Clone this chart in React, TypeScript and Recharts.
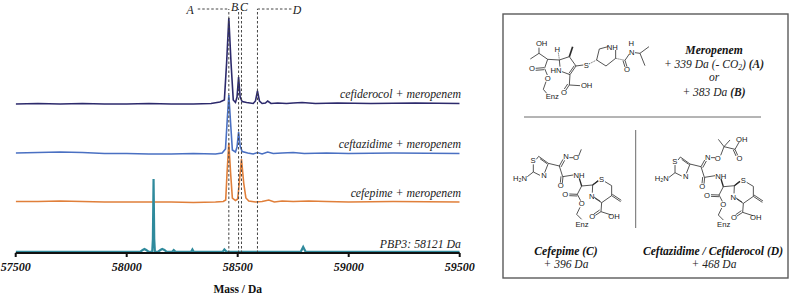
import React from "react";
import { LineChart, Line, XAxis, YAxis, ReferenceLine } from "recharts";

const massTicks = [57500, 58000, 58500, 59000, 59500];

const cefiderocolMass = [57500, 57600, 57700, 57800, 57900, 58000, 58100, 58200, 58300, 58380, 58420, 58440, 58450, 58460, 58470, 58480, 58490, 58497, 58504, 58511, 58520, 58540, 58570, 58580, 58589, 58598, 58610, 58625, 58635, 58650, 58680, 58720, 58750, 58790, 58850, 58950, 59100, 59300, 59500];
const cefiderocolSignal = [149, 149.5, 149, 149.5, 149, 149, 149.5, 149, 149, 149.5, 151, 153, 190, 235, 190, 153, 150.5, 156, 176, 156, 151.5, 150.5, 149.5, 152, 162, 152, 149.5, 150, 152, 149.5, 150, 149.5, 150, 150.5, 149.5, 150, 149.5, 150, 149.5];

const ceftazidimeMass = [57500, 57600, 57700, 57800, 57900, 58000, 58100, 58200, 58300, 58400, 58430, 58445, 58452, 58460, 58468, 58476, 58490, 58497, 58504, 58511, 58520, 58545, 58570, 58589, 58610, 58635, 58660, 58700, 58750, 58800, 58900, 59000, 59200, 59500];
const ceftazidimeSignal = [100, 100.5, 101, 100.5, 99.5, 99.5, 99, 99, 99.5, 99, 100, 104, 130, 158, 130, 103, 101, 106, 121, 107, 101.5, 100, 99, 100.5, 99, 101, 99.5, 100, 100.5, 99.5, 100, 99.5, 100, 99.5];

const cefepimeMass = [57500, 57600, 57700, 57800, 57900, 58000, 58100, 58200, 58300, 58400, 58435, 58446, 58452, 58460, 58468, 58476, 58490, 58500, 58507, 58517, 58527, 58537, 58550, 58580, 58610, 58640, 58665, 58700, 58750, 58820, 58900, 59000, 59200, 59500];
const cefepimeSignal = [51.5, 51.5, 52, 51.5, 51, 51, 51, 51, 50.5, 51, 51.5, 53, 80, 110, 80, 55, 52.5, 54, 70, 94, 70, 55, 52, 51, 51.5, 53, 51, 52, 51.5, 52, 51.5, 51, 51.5, 51];

const pbp3Mass = [57500, 57900, 58060, 58072, 58080, 58088, 58100, 58115, 58118, 58121, 58124, 58127, 58140, 58152, 58160, 58170, 58180, 58205, 58212, 58220, 58290, 58296, 58302, 58400, 58432, 58440, 58450, 58600, 58784, 58795, 58806, 59000, 59500];
const pbp3Signal = [1.2, 1.2, 1.2, 3, 4, 3, 1.2, 1.2, 14, 74, 14, 1.2, 1.2, 3, 4, 3, 1.2, 1.2, 3, 1.2, 1.2, 3.5, 1.2, 1.2, 1.2, 3.5, 1.2, 1.2, 1.2, 6, 1.2, 1.2, 1.2];

const massA = 58460;
const massB = 58504;
const massC = 58517;
const massD = 58589;
const leaderLevel = 244;
const leaderEndA = 58320;
const leaderEndD = 58745;

const toPoints = (xs: number[], ys: number[]) => xs.map((mass, i) => ({ mass, y: ys[i] }));

const series = [
  { key: "ceftazidime", color: "#4a70c2", width: 1.6, points: toPoints(ceftazidimeMass, ceftazidimeSignal) },
  { key: "cefiderocol", color: "#2d2a6c", width: 1.6, points: toPoints(cefiderocolMass, cefiderocolSignal) },
  { key: "cefepime", color: "#e07f3a", width: 1.6, points: toPoints(cefepimeMass, cefepimeSignal) },
  { key: "pbp3", color: "#2f8a9c", width: 2.2, points: toPoints(pbp3Mass, pbp3Signal) },
];

const serif = "'Liberation Serif', serif";
const sans = "'Liberation Sans', sans-serif";

type Seg = [number, number, number, number];
type Lab = [string, number, number];

// Meropenem adduct sketch, in 3x crop units
const meroBonds: Seg[] = [
  [207, 143, 207, 160], [207, 160, 181, 177], [207, 160, 233, 178], [233, 178, 268, 180],
  [233, 178, 224, 204], [222, 203, 197, 205], [222, 209, 197, 211], [224, 206, 232, 225],
  [228, 245, 220, 268], [220, 268, 230, 280],
  [268, 180, 298, 170], [298, 170, 318, 198], [318, 198, 300, 224], [313, 197, 297, 220],
  [300, 224, 276, 215], [268, 180, 270, 200],
  [300, 224, 298, 255], [298, 255, 330, 257], [298, 255, 288, 270], [293, 252, 283, 267],
  [318, 198, 340, 195],
  [380, 180, 388, 147], [388, 147, 414, 140], [437, 150, 437, 175], [437, 175, 408, 198], [408, 198, 380, 180],
  [465, 181, 471, 200], [459, 182, 465, 201], [465, 181, 478, 162], [495, 158, 510, 160], [510, 160, 537, 140], [510, 160, 525, 197],
];
const meroDashed: Seg[] = [[265, 158, 268, 178], [357, 192, 380, 180], [437, 175, 465, 181]];
const meroWedges: Seg[] = [[298, 170, 308, 140]];
const meroLabels: Lab[] = [
  ["OH", 215, 138], ["H", 262, 155], ["O", 186, 214], ["HN", 258, 218], ["O", 233, 242], ["Enz", 247, 298],
  ["O", 282, 284], ["OH", 350, 265], ["S", 349, 203], ["NH", 427, 150], ["H", 484, 137], ["N", 485, 164], ["O", 471, 217],
];

// Shared cephalosporin core, in 3x crop units
const cephBonds: Seg[] = [
  [172, 140, 190, 126], [190, 126, 190, 103], [199, 88, 206, 79], [206, 79, 235, 100], [210, 86, 231, 101],
  [235, 100, 224, 128], [210, 136, 190, 126], [235, 100, 268, 108],
  [268, 108, 279, 88], [273, 111, 284, 91], [268, 108, 278, 140], [273, 139, 271, 158], [279, 140, 277, 159], [278, 140, 310, 135],
  [335, 168, 322, 193], [322, 193, 298, 192], [322, 198, 298, 197], [322, 193, 332, 212],
  [330, 232, 320, 253], [320, 253, 335, 268],
  [335, 168, 368, 165], [368, 165, 367, 188], [384, 152, 368, 165],
  [405, 155, 425, 167], [425, 167, 425, 197], [425, 197, 395, 218], [395, 218, 375, 205], [391, 214, 372, 201],
  [425, 197, 452, 215], [427, 193, 454, 211],
  [395, 218, 393, 245], [393, 245, 424, 255], [393, 245, 376, 256], [389, 240, 372, 252],
];
const cephWedges: Seg[] = [[328, 145, 335, 168], [368, 165, 385, 152]];
const cephLabels: Lab[] = [
  ["H\u2082N", 150, 152], ["S", 189, 100], ["N", 222, 144], ["O", 272, 175], ["NH", 327, 144], ["O", 286, 202],
  ["O", 335, 229], ["Enz", 336, 290], ["S", 395, 157], ["N", 365, 207], ["O", 367, 267], ["OH", 432, 267], ["N", 288, 88],
];
const cefepimeTail: Seg[] = [[298, 83, 310, 83], [326, 78, 334, 58]];
const cefepimeTailLabels: Lab[] = [["O", 318, 90]];
const ceftazidimeTail: Seg[] = [
  [-127, 83, -115, 83], [-98, 76, -88, 50], [-88, 50, -105, 28], [-88, 50, -70, 30], [-88, 50, -55, 58],
  [-55, 58, -42, 35], [-55, 58, -47, 76], [-60, 60, -52, 78],
];
const ceftazidimeTailLabels: Lab[] = [["O", -107, 92], ["OH", -35, 35], ["O", -42, 92]];

const lineInk = "#2a2a2a";

function Bonds({ bonds, dashed, width }: { bonds: Seg[]; dashed?: boolean; width?: number }) {
  return (
    <g stroke={lineInk} strokeWidth={width ?? 2.4} strokeDasharray={dashed ? "3 3" : undefined} fill="none">
      {bonds.map(([a, b, c, d], i) => (
        <line key={i} x1={a} y1={b} x2={c} y2={d} />
      ))}
    </g>
  );
}
function AtomLabels({ labels }: { labels: Lab[] }) {
  return (
    <g fontFamily={sans} fontSize={23} fill="#1a1a1a" textAnchor="middle">
      {labels.map(([t, x, y], i) => (
        <text key={i} x={x} y={y}>{t}</text>
      ))}
    </g>
  );
}
function CephCore() {
  return (
    <g>
      <Bonds bonds={cephBonds} />
      <Bonds bonds={cephWedges} width={4} />
      <AtomLabels labels={cephLabels} />
    </g>
  );
}

const labelStyle = { fontFamily: serif, fontStyle: "italic" as const, fontSize: 11.8, fill: "#222" };
const centerBold = { fontFamily: serif, fontStyle: "italic" as const, fontWeight: 700, fontSize: 11.6, fill: "#111", textAnchor: "middle" as const };
const centerPlain = { fontFamily: serif, fontStyle: "italic" as const, fontSize: 11.5, fill: "#222", textAnchor: "middle" as const };

export default function App() {
  const dash = { stroke: "#444", strokeWidth: 1, strokeDasharray: "2.5 2", ifOverflow: "visible" as const };
  return (
    <div style={{ position: "fixed", left: 0, top: 0, width: 793, height: 295, background: "#fff" }}>
      <LineChart width={793} height={295} margin={{ top: 0, right: 333.3, bottom: 0, left: 15.7 }}>
        <XAxis
          type="number"
          dataKey="mass"
          domain={[57500, 59500]}
          ticks={massTicks}
          interval={0}
          allowDataOverflow
          height={42}
          stroke="#111"
          axisLine={{ stroke: "#111", strokeWidth: 2 }}
          tickLine={{ stroke: "#111", strokeWidth: 2 }}
          tickSize={4}
          tickMargin={5}
          tick={{ fontFamily: serif, fontStyle: "italic", fontWeight: 700, fontSize: 12, fill: "#111" }}
          label={{ value: "Mass / Da", position: "insideBottom", offset: 2, style: { fontFamily: serif, fontWeight: 700, fontSize: 11.5, fill: "#111" } }}
        />
        <YAxis hide domain={[0, 253]} />
        {series.map((s) => (
          <Line
            key={s.key}
            data={s.points}
            dataKey="y"
            name={s.key}
            type="linear"
            dot={false}
            stroke={s.color}
            strokeWidth={s.width}
            isAnimationActive={false}
          />
        ))}
        {[massA, massB, massC, massD].map((m) => (
          <ReferenceLine key={m} segment={[{ x: m, y: 0 }, { x: m, y: leaderLevel }]} {...dash} />
        ))}
        <ReferenceLine segment={[{ x: leaderEndA, y: leaderLevel }, { x: massA, y: leaderLevel }]} {...dash} />
        <ReferenceLine segment={[{ x: massD, y: leaderLevel }, { x: leaderEndD, y: leaderLevel }]} {...dash} />
      </LineChart>

      <svg width={793} height={295} style={{ position: "absolute", left: 0, top: 0, pointerEvents: "none" }}>
        <g {...labelStyle}>
          <text x={190} y={14} textAnchor="middle">A</text>
          <text x={234.5} y={11} textAnchor="middle">B</text>
          <text x={244} y={11} textAnchor="middle">C</text>
          <text x={297} y={14} textAnchor="middle">D</text>
        </g>
        <g {...labelStyle} textAnchor="end">
          <text x={461} y={98}>cefiderocol + meropenem</text>
          <text x={461} y={148}>ceftazidime + meropenem</text>
          <text x={461} y={197}>cefepime + meropenem</text>
          <text x={461} y={248}>PBP3: 58121 Da</text>
        </g>

        <rect x={503} y={14} width={285} height={264} fill="none" stroke="#5a5a5a" strokeWidth={1.4} />
        <line x1={524} y1={117} x2={761} y2={117} stroke="#444" strokeWidth={0.8} />
        <line x1={635.7} y1={130} x2={635.7} y2={228} stroke="#444" strokeWidth={0.8} />

        <g transform="translate(470,0) scale(0.3333)">
          <Bonds bonds={meroBonds} />
          <Bonds bonds={meroDashed} dashed />
          <Bonds bonds={meroWedges} width={5} />
          <AtomLabels labels={meroLabels} />
        </g>
        <g transform="translate(470,130) scale(0.3333)">
          <CephCore />
          <Bonds bonds={cefepimeTail} />
          <AtomLabels labels={cefepimeTailLabels} />
        </g>
        <g transform="translate(611.7,130.7) scale(0.3333)">
          <CephCore />
        </g>
        <g transform="translate(611.7,130) scale(0.3333) translate(425,0)">
          <Bonds bonds={ceftazidimeTail} />
          <AtomLabels labels={ceftazidimeTailLabels} />
        </g>

        <text x={714} y={54} {...centerBold}>Meropenem</text>
        <text x={714} y={68} {...centerPlain}>
          + 339 Da (- CO<tspan fontSize={7.5} dy={2}>2</tspan><tspan dy={-2}>) </tspan>
          <tspan fontWeight={700}>(A)</tspan>
        </text>
        <text x={714} y={81} {...centerPlain}>or</text>
        <text x={714} y={96} {...centerPlain}>+ 383 Da <tspan fontWeight={700}>(B)</tspan></text>

        <text x={566} y={254.5} {...centerBold}>Cefepime (C)</text>
        <text x={566} y={268} {...centerPlain}>+ 396 Da</text>
        <text x={713} y={254.5} {...centerBold}>Ceftazidime / Cefiderocol (D)</text>
        <text x={714} y={268} {...centerPlain}>+ 468 Da</text>
      </svg>
    </div>
  );
}
